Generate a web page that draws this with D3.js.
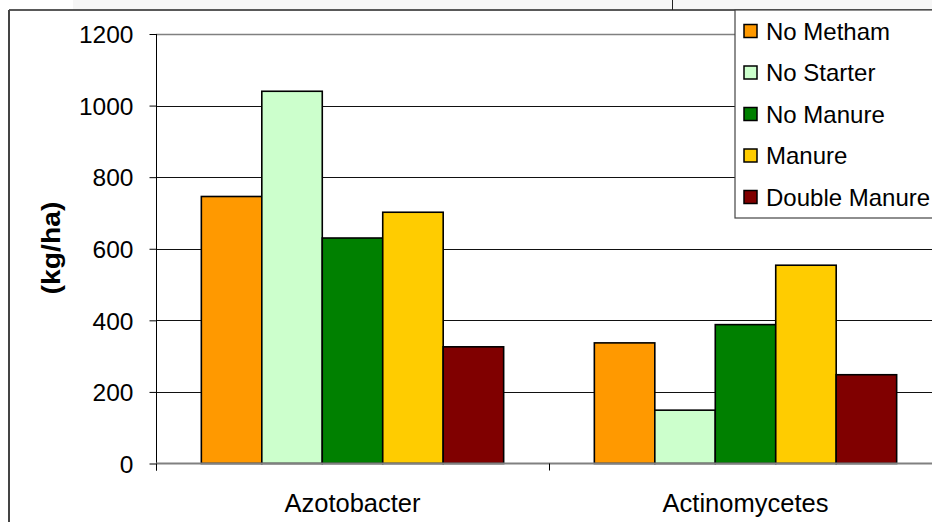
<!DOCTYPE html>
<html><head><meta charset="utf-8">
<script src="https://cdn.jsdelivr.net/npm/d3@7"></script>
<style>body{margin:0;background:#fff}svg{display:block;font-family:"Liberation Sans",Arial,sans-serif}</style>
</head><body><svg id="c" width="932" height="522"></svg>
<script>
const categories = ["Azotobacter", "Actinomycetes"];
const seriesNames = ["No Metham", "No Starter", "No Manure", "Manure", "Double Manure"];
const seriesColors = ["#FF9900", "#CCFFCC", "#008000", "#FFCC00", "#800000"];
const values = {
  "No Metham":     [746, 337],
  "No Starter":    [1040, 149],
  "No Manure":     [630, 388],
  "Manure":        [702, 554],
  "Double Manure": [326, 248]
};
const yTicks = [0, 200, 400, 600, 800, 1000, 1200];
const yTitle = "(kg/ha)";

const svg = d3.select("#c");
const pL = 156, pR = 942, pT = 34, pB = 463.5;
const y = d3.scaleLinear().domain([0, 1200]).range([pB, pT]);
const x0 = d3.scaleBand().domain(categories).range([pL, pR]).paddingInner(0).paddingOuter(0);
const x1 = d3.scaleBand().domain(seriesNames).range([0, x0.bandwidth()]).paddingInner(0).paddingOuter(0.75);
const color = d3.scaleOrdinal().domain(seriesNames).range(seriesColors);

// outer frame pieces
svg.append("rect").attr("x", 73).attr("y", 0).attr("width", 859).attr("height", 9.5).attr("fill", "#f6f6f6");
svg.append("line").attr("x1", 9).attr("x2", 932).attr("y1", 10).attr("y2", 10).attr("stroke", "#222").attr("stroke-width", 1.5);
svg.append("line").attr("x1", 9).attr("x2", 9).attr("y1", 10).attr("y2", 522).attr("stroke", "#444").attr("stroke-width", 2);
svg.append("line").attr("x1", 672.5).attr("x2", 672.5).attr("y1", 0).attr("y2", 10).attr("stroke", "#222").attr("stroke-width", 1);

// gridlines
svg.append("g").selectAll("line").data(yTicks.filter(d => d > 0)).join("line")
  .attr("x1", pL).attr("x2", 932)
  .attr("y1", d => Math.round(y(d)) + 0.5).attr("y2", d => Math.round(y(d)) + 0.5)
  .attr("stroke", d => d === 1200 ? "#808080" : "#111").attr("stroke-width", d => d === 1200 ? 1.5 : 1);

// y axis
const yAxis = d3.axisLeft(y).tickValues(yTicks).tickSize(7).tickPadding(16).tickFormat(d3.format("d"));
const ga = svg.append("g").attr("transform", `translate(${pL + 0.5},0)`).call(yAxis);
ga.select(".domain").attr("stroke", "#000").attr("d", `M0,${pT}V${pB + 7}`);
ga.selectAll(".tick line").attr("stroke", "#000");
ga.selectAll(".tick text").attr("font-size", 24.5).attr("font-family", "Liberation Sans, Arial, sans-serif").attr("fill", "#000").attr("dy", "0.36em");

// bars
const groups = svg.append("g").selectAll("g").data(categories).join("g")
  .attr("transform", d => `translate(${x0(d)},0)`);
groups.selectAll("rect").data((c, i) => seriesNames.map(s => ({s, v: values[s][i]}))).join("rect")
  .attr("x", d => x1(d.s)).attr("width", x1.bandwidth())
  .attr("y", d => y(d.v)).attr("height", d => y(0) - y(d.v))
  .attr("fill", d => color(d.s)).attr("stroke", "#000").attr("stroke-width", 1.6);

// x axis
const xAxis = d3.axisBottom(x0).tickSize(0).tickPadding(30);
const gx = svg.append("g").attr("transform", `translate(0,${pB})`).call(xAxis);
gx.select(".domain").attr("stroke", "#808080").attr("stroke-width", 2).attr("d", `M${pL},0H932`);
gx.selectAll(".tick text").attr("font-size", 25.5).attr("font-family", "Liberation Sans, Arial, sans-serif").attr("fill", "#000");
// category separator ticks
svg.append("g").selectAll("line").data(categories).join("line")
  .attr("x1", d => x0(d) + 0.5).attr("x2", d => x0(d) + 0.5)
  .attr("y1", pB).attr("y2", pB + 7).attr("stroke", "#000");

// y title
svg.append("text").attr("transform", "translate(60,248) rotate(-90)")
  .attr("text-anchor", "middle").attr("font-weight", "bold").attr("font-size", 26)
  .attr("textLength", 93).attr("lengthAdjust", "spacingAndGlyphs").text(yTitle);

// legend
const lg = svg.append("g");
lg.append("rect").attr("x", 735).attr("y", 10).attr("width", 210).attr("height", 208)
  .attr("fill", "#fff").attr("stroke", "#444").attr("stroke-width", 1.2);
const items = lg.selectAll("g").data(seriesNames).join("g")
  .attr("transform", (d, i) => `translate(0,${31 + i * 41.5})`);
items.append("rect").attr("x", 744).attr("y", -6.5).attr("width", 13).attr("height", 13)
  .attr("fill", d => color(d)).attr("stroke", "#000").attr("stroke-width", 1.5);
items.append("text").attr("x", 766).attr("y", 0).attr("dy", "0.36em")
  .attr("font-size", 24).attr("fill", "#000").text(d => d);
</script></body></html>
